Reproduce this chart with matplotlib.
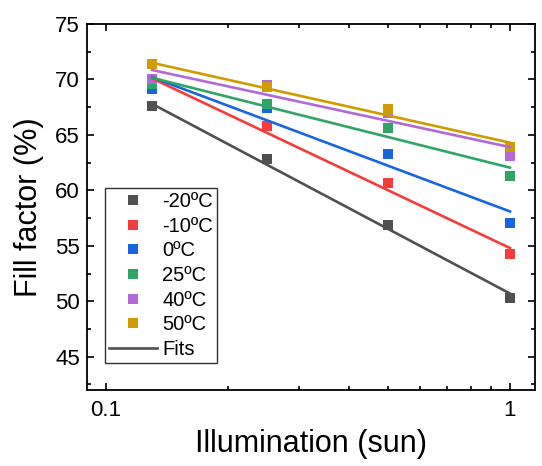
import numpy as np
import matplotlib
matplotlib.use('Agg')
import matplotlib.pyplot as plt
from matplotlib.ticker import FixedLocator, NullFormatter, MultipleLocator

plt.rcParams['font.family'] = ['Liberation Sans', 'DejaVu Sans']

# illumination levels (sun)
suns = [0.13, 0.25, 0.5, 1.0]

labels = ['-20ºC', '-10ºC', '0ºC', '25ºC', '40ºC', '50ºC']
colors = ['#505050', '#f43c3c', '#1766df', '#30a466', '#b26ad9', '#cf9c00']

# measured fill factor (%)
ff_m20 = [67.6, 62.8, 56.9, 50.3]
ff_m10 = [69.8, 65.8, 60.7, 54.3]
ff_0 = [69.1, 67.4, 63.3, 57.1]
ff_25 = [69.6, 67.8, 65.6, 61.3]
ff_40 = [70.0, 69.5, 67.0, 63.1]
ff_50 = [71.4, 69.3, 67.3, 63.9]
ff_all = [ff_m20, ff_m10, ff_0, ff_25, ff_40, ff_50]

# fit lines (log-linear), value at 0.13 sun and at 1 sun
fit_x = [0.13, 1.0]
fit_start = [67.8, 70.1, 70.2, 70.15, 70.85, 71.5]
fit_end = [50.7, 54.8, 58.1, 62.05, 63.9, 64.3]

fig = plt.figure(figsize=(5.42, 4.66), dpi=100)
ax = fig.add_axes([0.1605, 0.163, 0.8265, 0.7855])

for ff, c, lab in zip(ff_all, colors, labels):
    ax.plot(suns, ff, 's', color=c, markersize=7.2, markeredgewidth=0, label=lab)

for s, e, c in zip(fit_start, fit_end, colors):
    ax.plot(fit_x, [s, e], '-', color=c, lw=1.9)

# legend entry for fits
ax.plot([], [], '-', color='#505050', lw=1.9, label='Fits')

ax.set_xscale('log')
ax.set_xlim(0.0897, 1.153)
ax.set_ylim(42, 75)

ax.xaxis.set_major_locator(FixedLocator([0.1, 1]))
ax.xaxis.set_minor_locator(FixedLocator([0.2, 0.3, 0.4, 0.5, 0.6, 0.7, 0.8, 0.9]))
ax.xaxis.set_minor_formatter(NullFormatter())
ax.set_xticklabels(['0.1', '1'])
ax.yaxis.set_major_locator(MultipleLocator(5))
ax.yaxis.set_minor_locator(MultipleLocator(2.5))

ax.tick_params(which='both', direction='in', top=True, right=True, labelsize=16, width=1.2)
ax.tick_params(which='major', length=5)
ax.tick_params(which='minor', length=3)
ax.tick_params(axis='x', pad=7)
ax.tick_params(axis='y', pad=5)
for spine in ax.spines.values():
    spine.set_linewidth(1.3)

ax.set_xlabel('Illumination (sun)', fontsize=22, labelpad=6)
ax.set_ylabel('Fill factor (%)', fontsize=22, labelpad=8)

leg = ax.legend(loc='upper left', bbox_to_anchor=(0.04, 0.552), fontsize=14.5,
                frameon=True, fancybox=False, edgecolor='black', borderpad=0.2,
                labelspacing=0.28, handlelength=2.4, handletextpad=0.25,
                borderaxespad=0)
leg.get_frame().set_linewidth(1.0)

fig.savefig('out.png', dpi=100)
